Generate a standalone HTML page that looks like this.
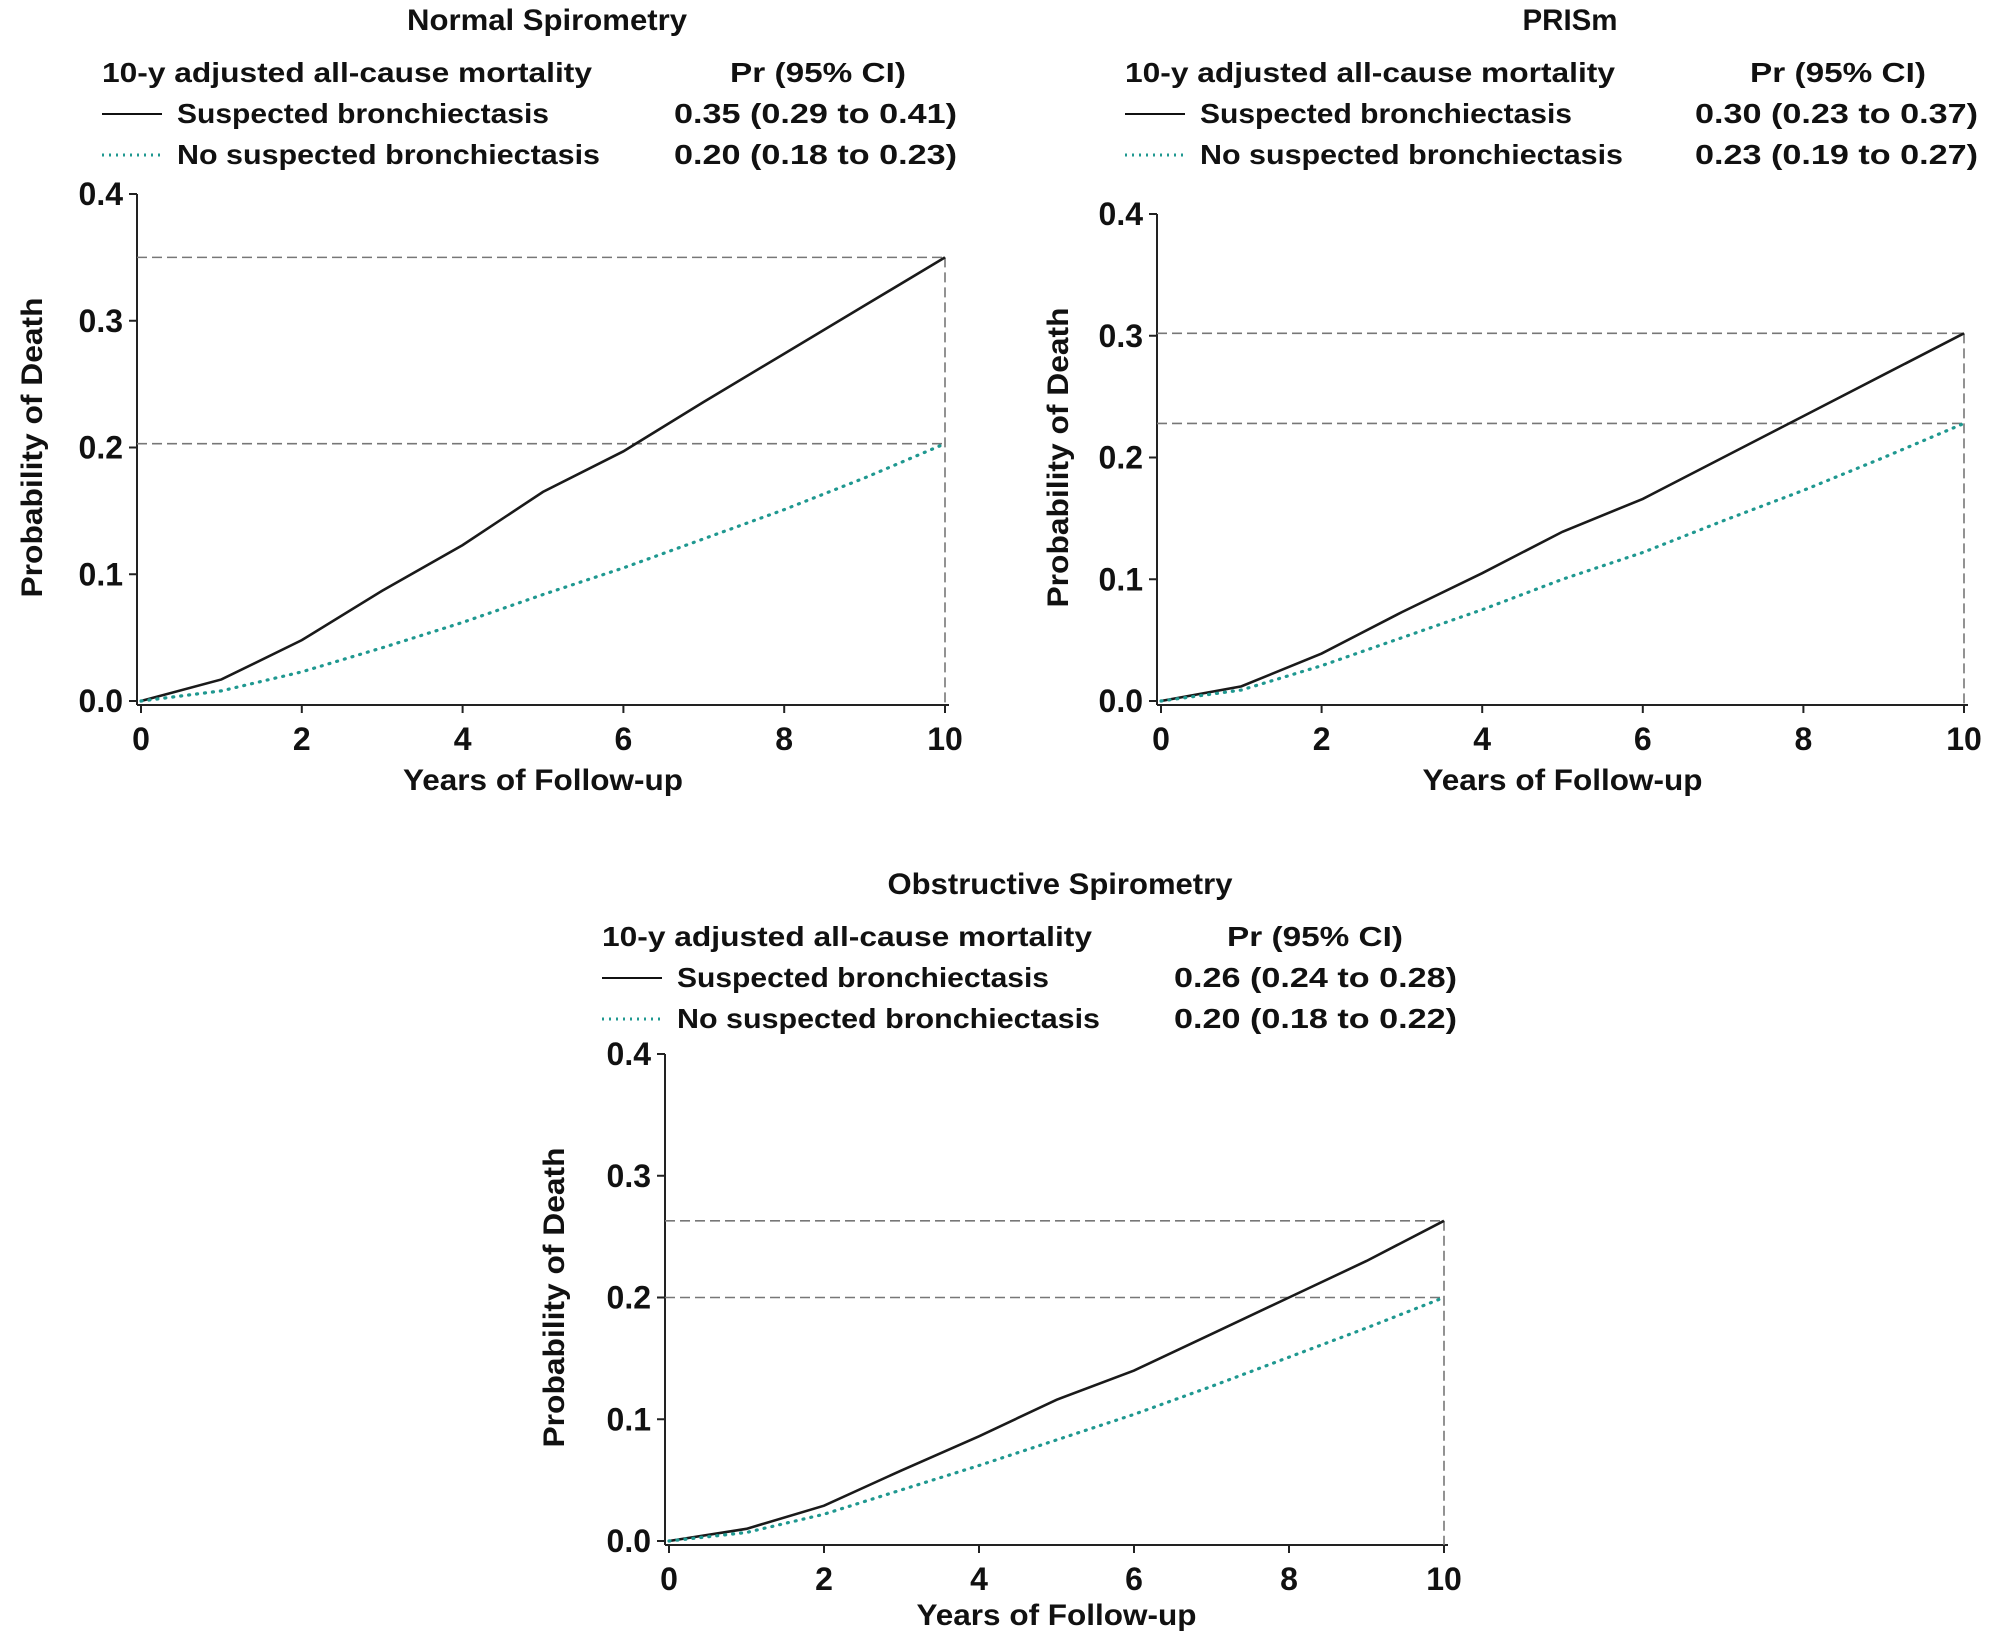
<!DOCTYPE html>
<html><head><meta charset="utf-8"><style>
html,body{margin:0;padding:0;background:#fff;}
svg{display:block;font-family:"Liberation Sans",sans-serif;}
text{fill:#111;font-weight:bold;}
</style></head><body>
<svg id="chart" width="2000" height="1631" viewBox="0 0 2000 1631" xmlns="http://www.w3.org/2000/svg"></svg>
<script>
const panelTitles = ["Normal Spirometry", "PRISm", "Obstructive Spirometry"];
const years = [0,1,2,3,4,5,6,7,8,9,10];
const suspected1 = [0,0.017,0.048,0.087,0.123,0.165,0.197,0.236,0.274,0.312,0.35];
const none1 = [0,0.008,0.023,0.042,0.062,0.084,0.105,0.128,0.151,0.176,0.203];
const suspected2 = [0,0.012,0.039,0.073,0.105,0.139,0.166,0.2,0.234,0.268,0.302];
const none2 = [0,0.009,0.029,0.052,0.075,0.1,0.122,0.148,0.173,0.2,0.228];
const suspected3 = [0,0.01,0.029,0.058,0.086,0.116,0.14,0.17,0.2,0.23,0.263];
const none3 = [0,0.007,0.022,0.042,0.062,0.083,0.104,0.127,0.151,0.175,0.2];
const prSuspected = ["0.35 (0.29 to 0.41)", "0.30 (0.23 to 0.37)", "0.26 (0.24 to 0.28)"];
const prNone = ["0.20 (0.18 to 0.23)", "0.23 (0.19 to 0.27)", "0.20 (0.18 to 0.22)"];
const xTicks = [0,2,4,6,8,10];
const yTicks = [0,0.1,0.2,0.3,0.4];
const yTickLabels = ["0.0","0.1","0.2","0.3","0.4"];

const NS = "http://www.w3.org/2000/svg";
const svg = document.getElementById('chart');
function mk(tag, attrs, parent){const e=document.createElementNS(NS,tag);for(const k in attrs)e.setAttribute(k,attrs[k]);(parent||svg).appendChild(e);return e;}

const layouts = [
 {x0:141,x1:945,y0:701,y1:194,titleX:547,titleY:30,legY:82,legX:102,prC:818,prR:957,ytX:32,xlY:750,xtY:790,tw:280},
 {x0:1161,x1:1964,y0:701,y1:214,titleX:1570,titleY:30,legY:82,legX:1125,prC:1838,prR:1978,ytX:1058,xlY:750,xtY:790,tw:95},
 {x0:669,x1:1444,y0:1541,y1:1054,titleX:1060,titleY:894,legY:946,legX:602,prC:1315,prR:1457,ytX:554,xlY:1590,xtY:1625,tw:345}
];
const sus=[suspected1,suspected2,suspected3], non=[none1,none2,none3];

layouts.forEach((L,i)=>{
 const g=mk('g',{});
 
 
 const xs=v=>L.x0+(v/10)*(L.x1-L.x0);
 const ys=v=>L.y0-(v/0.4)*(L.y0-L.y1);
 let t=mk('text',{x:L.titleX,y:L.titleY,'text-anchor':'middle','font-size':30,textLength:L.tw,lengthAdjust:'spacingAndGlyphs'},g);t.textContent=panelTitles[i];
 
 const lg=mk('g',{},g);
 
 t=mk('text',{x:L.legX,y:L.legY,'font-size':28,textLength:490,lengthAdjust:'spacingAndGlyphs'},lg);t.textContent="10-y adjusted all-cause mortality";
 t=mk('text',{x:L.prC,y:L.legY,'font-size':28,'text-anchor':'middle',textLength:176,lengthAdjust:'spacingAndGlyphs'},lg);t.textContent="Pr (95% CI)";
 const rows=[[L.legY+41,'#111',null,"Suspected bronchiectasis",prSuspected[i],'legend-suspected'],[L.legY+82,'#1f9890','2 5',"No suspected bronchiectasis",prNone[i],'legend-no-suspected']];
 rows.forEach(r=>{
  const e=mk('g',{},lg);
  
  const ln=mk('line',{x1:L.legX,x2:L.legX+60,y1:r[0]-9,y2:r[0]-9,stroke:r[1],'stroke-width':r[2]?3:2},e);
  if(r[2])ln.setAttribute('stroke-dasharray',r[2]);
  let tt=mk('text',{x:L.legX+75,y:r[0],'font-size':28,textLength:r[3].length>25?423:372,lengthAdjust:'spacingAndGlyphs'},e);tt.textContent=r[3];
  tt=mk('text',{x:L.prR,y:r[0],'font-size':28,'text-anchor':'end',textLength:283,lengthAdjust:'spacingAndGlyphs'},e);tt.textContent=r[4];
 });
 const ax=mk('g',{},g);
 mk('line',{x1:L.x0-4,x2:L.x0-4,y1:L.y1,y2:L.y0+4,stroke:'#222','stroke-width':2},ax);
 mk('line',{x1:L.x0-4,x2:L.x1+4,y1:L.y0+4,y2:L.y0+4,stroke:'#222','stroke-width':2},ax);
 yTicks.forEach((v,k)=>{
  mk('line',{x1:L.x0-12,x2:L.x0-4,y1:ys(v),y2:ys(v),stroke:'#222','stroke-width':2},ax);
  const tt=mk('text',{x:L.x0-18,y:ys(v)+11,'font-size':32,'text-anchor':'end'},ax);tt.textContent=yTickLabels[k];
  
 });
 xTicks.forEach(v=>{
  mk('line',{x1:xs(v),x2:xs(v),y1:L.y0+4,y2:L.y0+12,stroke:'#222','stroke-width':2},ax);
  const tt=mk('text',{x:xs(v),y:L.xlY,'font-size':32,'text-anchor':'middle'},ax);tt.textContent=v;
  
 });
 t=mk('text',{x:(L.x0+L.x1)/2,y:L.xtY,'font-size':30,'text-anchor':'middle',textLength:280,lengthAdjust:'spacingAndGlyphs'},g);t.textContent="Years of Follow-up";
 
 const yc=(L.y0+L.y1)/2;
 t=mk('text',{x:L.ytX,y:yc,'font-size':30,'text-anchor':'middle',transform:`rotate(-90 ${L.ytX} ${yc})`,dy:10,textLength:300,lengthAdjust:'spacingAndGlyphs'},g);t.textContent="Probability of Death";
 
 const last=years.length-1;
 [sus[i][last],non[i][last]].forEach(v=>{
  const d=mk('line',{x1:L.x0-4,x2:xs(10),y1:ys(v),y2:ys(v),stroke:'#777','stroke-width':1.6,'stroke-dasharray':'10 5'},g);
  
 });
 const vd=mk('line',{x1:xs(10),x2:xs(10),y1:ys(sus[i][last]),y2:L.y0+4,stroke:'#777','stroke-width':1.6,'stroke-dasharray':'10 5'},g);
 
 const p1=mk('polyline',{points:years.map((y,k)=>xs(y)+','+ys(sus[i][k])).join(' '),fill:'none',stroke:'#1a1a1a','stroke-width':2.6},g);
 
 const p2=mk('polyline',{points:years.map((y,k)=>xs(y)+','+ys(non[i][k])).join(' '),fill:'none',stroke:'#1f9890','stroke-width':3.2,'stroke-dasharray':'1 7','stroke-linecap':'round'},g);
 
});
</script>
</body></html>
